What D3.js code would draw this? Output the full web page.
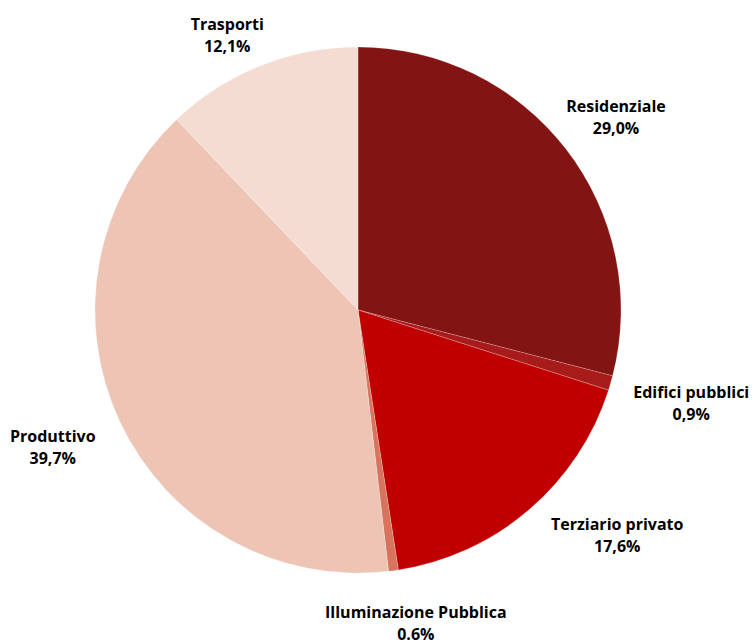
<!DOCTYPE html>
<html><head><meta charset="utf-8">
<script src="https://cdn.jsdelivr.net/npm/d3@7"></script>
<style>html,body{margin:0;padding:0;background:#fff;}</style>
</head><body>
<svg id="chart" width="752" height="641"></svg>
<script>
const categories = ["Residenziale","Edifici pubblici","Terziario privato","Illuminazione Pubblica","Produttivo","Trasporti"];
const values = [29.0, 0.9, 17.6, 0.6, 39.7, 12.1];
const valueLabels = ["29,0%","0,9%","17,6%","0.6%","39,7%","12,1%"];
const colors = ["#831414","#A81B1B","#C00000","#D8735E","#EEC4B4","#F5DCD3"];

// layout nudges for label placement (pixels)
const nudges = {
  "Residenziale":[1,6], "Edifici pubblici":[21,3], "Terziario privato":[48,-22],
  "Illuminazione Pubblica":[14,-9], "Produttivo":[-11,-1], "Trasporti":[-10,27]
};

const W = 752, H = 641, cx = 358, cy = 310, R = 263, labelR = 325;
const svg = d3.select("#chart");
const g = svg.append("g").attr("transform", `translate(${cx},${cy})`);

const data = categories.map((c,i)=>({cat:c, value:values[i], label:valueLabels[i], color:colors[i]}));
const pie = d3.pie().value(d=>d.value).sort(null).startAngle(0).endAngle(2*Math.PI);
const arc = d3.arc().innerRadius(0).outerRadius(R);
const arcs = pie(data);

g.selectAll("path").data(arcs).join("path")
  .attr("d", arc)
  .attr("fill", d=>d.data.color)
  .attr("stroke", "rgba(255,255,255,0.35)")
  .attr("stroke-width", 0.6);

const lab = g.selectAll("g.lab").data(arcs).join("g").attr("class","lab")
  .attr("transform", d=>{
    const a = (d.startAngle+d.endAngle)/2;
    const n = nudges[d.data.cat] || [0,0];
    const x = labelR*Math.sin(a) + n[0];
    const y = -labelR*Math.cos(a) + n[1];
    return `translate(${x},${y})`;
  });
lab.append("text").attr("text-anchor","middle").attr("y",-5)
  .style("font-family","'Open Sans', sans-serif").style("font-weight","700").style("font-size","16px").attr("fill","#000")
  .text(d=>d.data.cat);
lab.append("text").attr("text-anchor","middle").attr("y",17)
  .style("font-family","'Open Sans', sans-serif").style("font-weight","700").style("font-size","16px").attr("fill","#000")
  .text(d=>d.data.label);
</script>
</body></html>
